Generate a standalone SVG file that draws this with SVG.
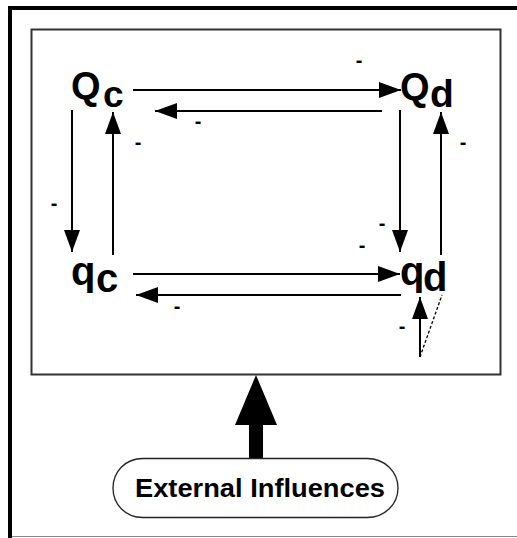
<svg xmlns="http://www.w3.org/2000/svg" width="517" height="538" viewBox="0 0 517 538">
<style>
.lbl{font-family:"Liberation Sans",Arial,sans-serif;font-weight:bold;fill:#000}
.sgn{font-family:"Liberation Sans",Arial,sans-serif;font-size:20px;font-weight:bold;fill:#000;text-anchor:middle}
.ln{stroke:#000;stroke-width:2;fill:none}
</style>
<defs>
<marker id="ah" markerUnits="userSpaceOnUse" markerWidth="24" markerHeight="18" refX="22" refY="8" orient="auto">
<path d="M0,0 L22,8 L0,16 z" fill="#000"/>
</marker>
</defs>
<rect width="517" height="538" fill="#fff"/>
<g id="frame">
<rect x="8" y="6" width="509" height="4" fill="#000"/>
<rect x="8" y="6" width="4" height="532" fill="#000"/>
<line x1="12" y1="536.5" x2="517" y2="536.5" stroke="#888" stroke-width="1"/>
<rect x="31.5" y="29.5" width="469" height="345" fill="none" stroke="#333" stroke-width="2"/>
</g>
<g id="Qc">
<text class="lbl" x="71" y="99" font-size="38">Q</text>
<text class="lbl" x="103" y="107" font-size="37">c</text>
</g>
<g id="Qd">
<text class="lbl" x="400" y="100" font-size="38">Q</text>
<text class="lbl" x="430" y="107" font-size="39">d</text>
</g>
<g id="qc">
<text class="lbl" x="71" y="285" font-size="40">q</text>
<text class="lbl" x="96" y="292" font-size="40">c</text>
</g>
<g id="qd">
<text class="lbl" x="400" y="285" font-size="40">q</text>
<text class="lbl" x="423" y="291" font-size="40">d</text>
</g>
<g id="connectors">
<line class="ln" x1="133" y1="90" x2="401" y2="90" marker-end="url(#ah)"/>
<line class="ln" x1="382" y1="111" x2="155" y2="111" marker-end="url(#ah)"/>
<line class="ln" x1="72" y1="110" x2="72" y2="252" marker-end="url(#ah)"/>
<line class="ln" x1="113" y1="255" x2="113" y2="112" marker-end="url(#ah)"/>
<line class="ln" x1="400" y1="110" x2="400" y2="252" marker-end="url(#ah)"/>
<line class="ln" x1="441" y1="255" x2="441" y2="112" marker-end="url(#ah)"/>
<line class="ln" x1="133" y1="274" x2="400" y2="274" marker-end="url(#ah)"/>
<line class="ln" x1="401" y1="295" x2="136" y2="295" marker-end="url(#ah)"/>
<line class="ln" x1="420" y1="357" x2="420" y2="297" marker-end="url(#ah)"/>
<line x1="420" y1="357" x2="442" y2="295" stroke="#000" stroke-width="1.3" stroke-dasharray="3,2"/>
<polygon points="256,375 277,425 263,425 263,458 249,458 249,425 235,425" fill="#000"/>
</g>
<g id="signs">
<text class="sgn" x="359" y="67">-</text>
<text class="sgn" x="198" y="128">-</text>
<text class="sgn" x="138" y="149">-</text>
<text class="sgn" x="463" y="149">-</text>
<text class="sgn" x="54" y="210">-</text>
<text class="sgn" x="382" y="230">-</text>
<text class="sgn" x="362" y="252">-</text>
<text class="sgn" x="177" y="313">-</text>
<text class="sgn" x="402" y="333">-</text>
</g>
<g id="external">
<path d="M143,458.5 L367,458.5 C385,458.5 398,472 398,488 C398,504 385,517.5 367,517.5 L143,517.5 C125,517.5 113,504 113,488 C113,472 125,458.5 143,458.5 Z" fill="#fff" stroke="#222" stroke-width="1.3"/>
<text class="lbl" x="260" y="497" font-size="25" text-anchor="middle" textLength="250" lengthAdjust="spacingAndGlyphs">External Influences</text>
</g>
</svg>
